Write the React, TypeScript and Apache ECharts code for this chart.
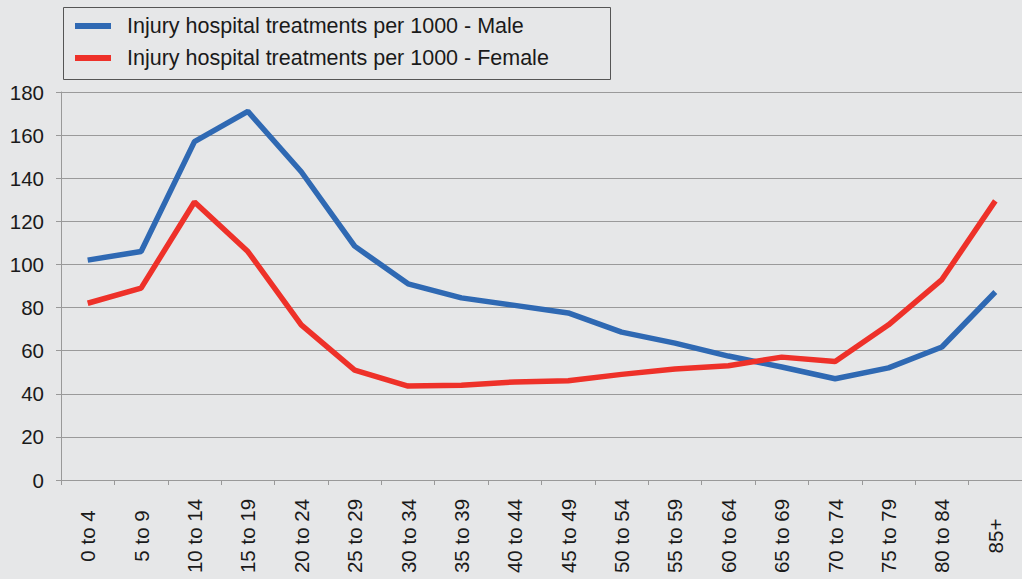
import React, { useEffect, useRef } from "react";
import * as echarts from "echarts";

const categories = ["0 to 4", "5 to 9", "10 to 14", "15 to 19", "20 to 24", "25 to 29", "30 to 34", "35 to 39", "40 to 44", "45 to 49", "50 to 54", "55 to 59", "60 to 64", "65 to 69", "70 to 74", "75 to 79", "80 to 84", "85+"];
const male = [102, 106, 157, 171, 143, 108.5, 91, 84.5, 81, 77.5, 68.6, 63.5, 57.5, 52.4, 47, 52, 61.7, 87.2];
const female = [82, 89, 129, 106, 72, 51, 43.6, 44, 45.5, 46, 49, 51.5, 53, 57, 55, 72, 93, 129.5];
const seriesNames = ["Injury hospital treatments per 1000 - Male", "Injury hospital treatments per 1000 - Female"];
const colors = ["#2f69b3", "#ee3129"];

const FONT = "Liberation Sans";

export default function App() {
  const ref = useRef<HTMLDivElement>(null);
  useEffect(() => {
    const chart = echarts.init(ref.current!, null, { renderer: "svg" });
    chart.setOption({
      animation: false,
      backgroundColor: "#e6e7e8",
      textStyle: { fontFamily: FONT },
      grid: { left: 61, right: -9, top: 92, bottom: 99, containLabel: false },
      graphic: [
        {
          type: "rect",
          shape: { x: 63.5, y: 7.5, width: 547, height: 72 },
          style: { fill: "none", stroke: "#555555", lineWidth: 1 },
          z: 10,
        },
      ],
      legend: {
        orient: "vertical",
        left: 75,
        top: 14,
        padding: 0,
        icon: "rect",
        itemWidth: 36,
        itemHeight: 6,
        itemGap: 8,
        textStyle: { fontFamily: FONT, fontSize: 21.5, color: "#1a1a1a", lineHeight: 24, padding: [0, 0, 0, 11] },
        data: seriesNames,
      },
      xAxis: {
        type: "category",
        data: categories,
        boundaryGap: true,
        axisLine: { lineStyle: { color: "#999999", width: 1 } },
        axisTick: { show: true, length: 5, lineStyle: { color: "#999999" } },
        axisLabel: {
          rotate: 90,
          align: "center",
          verticalAlign: "middle",
          margin: 56,
          interval: 0,
          fontFamily: FONT,
          fontSize: 20.5,
          color: "#1a1a1a",
        },
      },
      yAxis: {
        type: "value",
        min: 0,
        max: 180,
        interval: 20,
        axisLine: { show: true, lineStyle: { color: "#999999", width: 1 } },
        axisTick: { show: true, length: 5, lineStyle: { color: "#999999" } },
        splitLine: { show: true, lineStyle: { color: "#9a9a9a", width: 1 } },
        axisLabel: { margin: 17, fontFamily: FONT, fontSize: 20.5, color: "#1a1a1a" },
      },
      series: [
        {
          name: seriesNames[0],
          type: "line",
          data: male,
          symbol: "none",
          lineStyle: { color: colors[0], width: 5.5 },
          itemStyle: { color: colors[0] },
        },
        {
          name: seriesNames[1],
          type: "line",
          data: female,
          symbol: "none",
          lineStyle: { color: colors[1], width: 5.5 },
          itemStyle: { color: colors[1] },
        },
      ],
    });
    return () => chart.dispose();
  }, []);
  return <div ref={ref} style={{ position: "fixed", left: 0, top: 0, width: 1022, height: 579 }} />;
}
